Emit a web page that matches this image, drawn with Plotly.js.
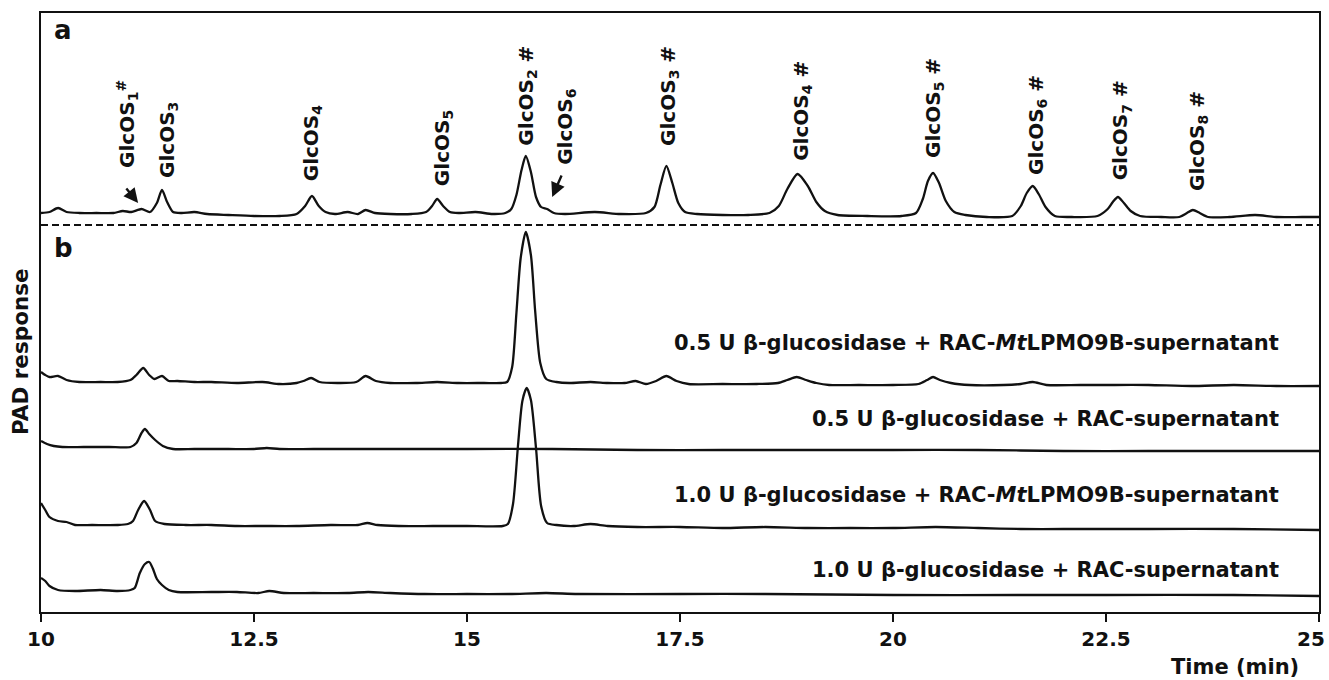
<!DOCTYPE html>
<html><head><meta charset="utf-8">
<script src="https://cdn.plot.ly/plotly-3.0.1.min.js"></script>
<style>html,body{margin:0;padding:0;background:#fff}#chart{width:1329px;height:680px}</style>
</head><body><div id="chart"></div>
<script>
// ---- data: [time (min), PAD response (a.u., relative to trace baseline)] ----
const traceA = [[10.0,2],[10.1,3],[10.2,7],[10.3,3],[10.45,2],[10.65,2],[10.85,2],[10.96,4],[11.06,3],[11.18,6],[11.28,3],[11.36,12],[11.42,25],[11.48,13],[11.55,3],[11.65,2],[11.8,3],[11.95,1],[12.2,0],[12.5,-1],[12.8,-1],[13.0,1],[13.1,9],[13.18,19],[13.26,9],[13.34,3],[13.45,1],[13.6,3],[13.72,1],[13.81,5],[13.92,2],[14.1,1],[14.35,1],[14.52,3],[14.59,9],[14.65,16],[14.72,9],[14.8,3],[14.9,2],[15.1,3],[15.3,1],[15.45,2],[15.52,6],[15.58,20],[15.64,45],[15.69,59],[15.75,43],[15.81,18],[15.87,8],[15.94,6],[16.02,2],[16.15,1],[16.5,3],[16.8,1],[17.1,2],[17.2,8],[17.27,30],[17.34,49],[17.41,32],[17.48,12],[17.56,3],[17.7,1],[18.0,0],[18.3,0],[18.55,2],[18.66,9],[18.76,26],[18.88,41],[19.0,29],[19.1,13],[19.2,4],[19.35,0],[19.7,-1],[20.1,-1],[20.27,2],[20.35,16],[20.41,34],[20.47,42],[20.54,32],[20.62,14],[20.72,3],[20.85,0],[21.1,-2],[21.4,-1],[21.5,9],[21.57,22],[21.64,29],[21.71,21],[21.79,8],[21.9,-1],[22.1,-2],[22.4,-1],[22.52,6],[22.58,13],[22.64,18],[22.71,12],[22.79,4],[22.9,-1],[23.15,-2],[23.36,-2],[23.45,2],[23.52,5],[23.6,2],[23.7,-2],[23.95,-2],[24.25,0],[24.5,-2],[24.8,-2],[25.0,-2]];
const traceB1 = [[10.0,11],[10.05,8],[10.1,6],[10.2,7],[10.3,3],[10.45,1],[10.7,1],[10.9,1],[11.05,3],[11.12,8],[11.2,15],[11.27,8],[11.33,4],[11.42,7],[11.5,2],[11.6,2],[11.8,1],[12.0,1],[12.3,0],[12.6,1],[12.8,-1],[13.0,0],[13.08,2],[13.17,5],[13.27,1],[13.5,0],[13.7,1],[13.81,7],[13.93,2],[14.1,0],[14.4,0],[14.65,1],[14.9,0],[15.2,0],[15.4,0],[15.47,1],[15.53,16],[15.58,70],[15.63,125],[15.69,151],[15.75,128],[15.80,72],[15.86,20],[15.93,4],[16.05,1],[16.2,0],[16.45,1],[16.65,0],[16.85,0],[16.98,2],[17.1,-1],[17.22,2],[17.34,7],[17.46,2],[17.6,-1],[18.0,-1],[18.4,-1],[18.65,0],[18.76,3],[18.87,6],[18.98,3],[19.1,0],[19.25,-2],[19.6,-2],[20.0,-2],[20.3,-1],[20.4,3],[20.47,6],[20.55,3],[20.68,0],[20.9,-2],[21.3,-2],[21.5,-1],[21.64,1],[21.8,-2],[22.2,-2],[22.6,-2],[23.0,-2],[23.5,-3],[24.0,-2],[24.5,-3],[25.0,-3]];
const traceB2 = [[10.0,8],[10.07,5],[10.15,3],[10.25,2],[10.5,2],[10.8,2],[11.05,2],[11.12,6],[11.18,16],[11.22,20],[11.27,15],[11.34,9],[11.43,3],[11.55,0],[11.8,0],[12.2,0],[12.5,0],[12.65,1],[12.8,0],[13.2,0],[14.0,0],[15.0,0],[16.0,0],[17.0,-1],[18.0,-1],[19.0,-1],[20.0,-1],[21.0,-1],[22.0,-2],[23.0,-2],[24.0,-2],[25.0,-2]];
const traceB3 = [[10.0,23],[10.05,16],[10.1,9],[10.2,5],[10.3,4],[10.4,1],[10.6,1],[10.9,1],[11.02,2],[11.08,5],[11.14,16],[11.21,25],[11.28,16],[11.34,5],[11.45,2],[11.7,1],[12.0,1],[12.3,0],[12.6,0],[13.0,0],[13.4,1],[13.72,1],[13.83,3],[13.95,1],[14.2,0],[14.6,0],[15.0,0],[15.42,0],[15.48,2],[15.54,22],[15.6,82],[15.65,125],[15.7,138],[15.75,126],[15.81,78],[15.87,20],[15.94,3],[16.05,1],[16.25,0],[16.45,2],[16.65,0],[17.0,-1],[17.5,-1],[18.0,-2],[18.5,-1],[19.0,-2],[19.5,-2],[20.0,-2],[20.5,-1],[21.0,-2],[21.5,-3],[22.0,-3],[22.5,-3],[23.0,-3],[24.0,-3],[25.0,-4]];
const traceB4 = [[10.0,15],[10.05,12],[10.1,7],[10.2,3],[10.4,2],[10.7,3],[10.9,2],[11.05,3],[11.1,5],[11.16,20],[11.22,29],[11.27,31],[11.31,25],[11.36,14],[11.42,8],[11.5,3],[11.6,1],[12.0,1],[12.3,1],[12.55,0],[12.68,2],[12.85,0],[13.2,0],[13.6,0],[13.84,1],[14.1,0],[14.5,-1],[15.0,-1],[15.5,-1],[15.93,0],[16.3,-1],[17.5,-1],[18.5,-1],[20.0,-2],[21.5,-2],[22.5,-2],[24.0,-2],[25.0,-3]];

const tickValues = [10, 12.5, 15, 17.5, 20, 22.5, 25];
const tickLabels = ['10', '12.5', '15', '17.5', '20', '22.5', '25'];

// peak labels of panel a: [text, retention time of label centre]
const peakLabels = [
  ['GlcOS<sub>1</sub><sup>#</sup>', 11.02],
  ['GlcOS<sub>3</sub>', 11.49],
  ['GlcOS<sub>4</sub>', 13.19],
  ['GlcOS<sub>5</sub>', 14.72],
  ['GlcOS<sub>2</sub> #', 15.70],
  ['GlcOS<sub>6</sub>', 16.16],
  ['GlcOS<sub>3</sub> #', 17.37],
  ['GlcOS<sub>4</sub> #', 18.93],
  ['GlcOS<sub>5</sub> #', 20.48],
  ['GlcOS<sub>6</sub> #', 21.69],
  ['GlcOS<sub>7</sub> #', 22.68],
  ['GlcOS<sub>8</sub> #', 23.58]
];
const sampleLabels = [
  '0.5 U β-glucosidase + RAC-<i>Mt</i>LPMO9B-supernatant',
  '0.5 U β-glucosidase + RAC-supernatant',
  '1.0 U β-glucosidase + RAC-<i>Mt</i>LPMO9B-supernatant',
  '1.0 U β-glucosidase + RAC-supernatant'
];

// ---- layout geometry (pixels) ----
const W = 1329, HT = 680;
const TOP = 13, BOTTOM = 612, LEFT = 41, RIGHT = 1319;
const PH = BOTTOM - TOP;
const py = y => (BOTTOM - y) / PH;          // pixel row -> paper fraction
const px = x => (x - LEFT) / (RIGHT - LEFT); // pixel col -> paper fraction
const baselinePx = [215, 383, 449, 526, 593];
const peakLabelBottomPx = [170, 180, 183, 188, 148, 167, 148, 163, 160, 177, 182, 193];
const sampleLabelPx = [343, 419, 495, 570];

const FONT = 'DejaVu Sans, Verdana, sans-serif';
const INK = '#111111';

const series = [traceA, traceB1, traceB2, traceB3, traceB4];
const axisIds = ['y', 'y2', 'y3', 'y4', 'y5'];

const data = series.map((s, i) => ({
  type: 'scatter', mode: 'lines',
  x: s.map(p => p[0]), y: s.map(p => p[1]),
  yaxis: axisIds[i],
  line: {color: INK, width: 2.3, shape: 'spline', smoothing: 0.7},
  hoverinfo: 'skip', showlegend: false
}));

const layout = {
  width: W, height: HT,
  margin: {l: LEFT, r: W - RIGHT, t: TOP, b: HT - BOTTOM, pad: 0},
  paper_bgcolor: '#fff', plot_bgcolor: '#fff',
  showlegend: false,
  font: {family: FONT, color: INK},
  xaxis: {
    range: [10, 25], tickmode: 'array', tickvals: tickValues,
    ticktext: tickLabels.map((t, i) => i === tickLabels.length - 1 ? '' : t),
    ticks: 'outside', ticklen: 8, tickwidth: 2, tickcolor: INK,
    showline: true, mirror: true, linewidth: 2, linecolor: INK,
    showgrid: false, zeroline: false,
    tickfont: {family: FONT, size: 20, weight: 700, color: INK}
  },
  annotations: [], shapes: []
};
baselinePx.forEach((b, i) => {
  const key = i === 0 ? 'yaxis' : 'yaxis' + (i + 1);
  const ax = {range: [b - BOTTOM, b - TOP], showgrid: false, zeroline: false,
              showticklabels: false, ticks: ''};
  if (i === 0) Object.assign(ax, {showline: true, mirror: true, linewidth: 2, linecolor: INK});
  else Object.assign(ax, {overlaying: 'y', visible: false});
  layout[key] = ax;
});

// last tick label (kept inside the page, right-aligned like the reference)
layout.annotations.push({text: '<b>' + tickLabels[tickLabels.length - 1] + '</b>', xref: 'paper', yref: 'paper',
  x: px(1327), y: py(639), xanchor: 'right', yanchor: 'middle', showarrow: false,
  font: {family: FONT, size: 20, color: INK}});

// dashed separator between panels
layout.shapes.push({type: 'line', xref: 'paper', yref: 'paper', x0: 0, x1: 1,
  y0: py(225), y1: py(225), line: {color: INK, width: 2, dash: '7px,4px'}});

// panel letters
layout.annotations.push({text: '<b>a</b>', xref: 'paper', yref: 'paper', x: px(52), y: py(30),
  xanchor: 'left', yanchor: 'middle', showarrow: false, font: {family: FONT, size: 26, color: INK}});
layout.annotations.push({text: '<b>b</b>', xref: 'paper', yref: 'paper', x: px(52), y: py(248),
  xanchor: 'left', yanchor: 'middle', showarrow: false, font: {family: FONT, size: 26, color: INK}});

// peak labels
peakLabels.forEach((p, i) => {
  layout.annotations.push({text: '<b>' + p[0] + '</b>', xref: 'x', yref: 'paper', x: p[1],
    y: py(peakLabelBottomPx[i]), xanchor: 'center', yanchor: 'bottom', textangle: -90,
    showarrow: false, font: {family: FONT, size: 20, color: INK}});
});
// arrows
layout.annotations.push({text: '', xref: 'x', yref: 'paper', x: 11.14, y: py(203),
  ax: -13, ay: -16, showarrow: true, arrowhead: 2, arrowsize: 1.2, arrowwidth: 2.4, arrowcolor: INK});
layout.annotations.push({text: '', xref: 'x', yref: 'paper', x: 16.0, y: py(197),
  ax: 10, ay: -23, showarrow: true, arrowhead: 2, arrowsize: 1.2, arrowwidth: 2.4, arrowcolor: INK});

// sample labels
sampleLabels.forEach((t, i) => {
  layout.annotations.push({text: '<b>' + t + '</b>', xref: 'paper', yref: 'paper', x: px(1281),
    y: py(sampleLabelPx[i]), xanchor: 'right', yanchor: 'middle', showarrow: false,
    font: {family: FONT, size: 21, color: INK}});
});

// axis titles
layout.annotations.push({text: '<b>PAD response</b>', xref: 'paper', yref: 'paper', x: px(20),
  y: py(352), xanchor: 'center', yanchor: 'middle', textangle: -90, showarrow: false,
  font: {family: FONT, size: 21.5, color: INK}});
layout.annotations.push({text: '<b>Time (min)</b>', xref: 'paper', yref: 'paper', x: px(1301),
  y: py(667), xanchor: 'right', yanchor: 'middle', showarrow: false,
  font: {family: FONT, size: 21, color: INK}});

Plotly.newPlot('chart', data, layout, {staticPlot: true, displayModeBar: false});
</script></body></html>
